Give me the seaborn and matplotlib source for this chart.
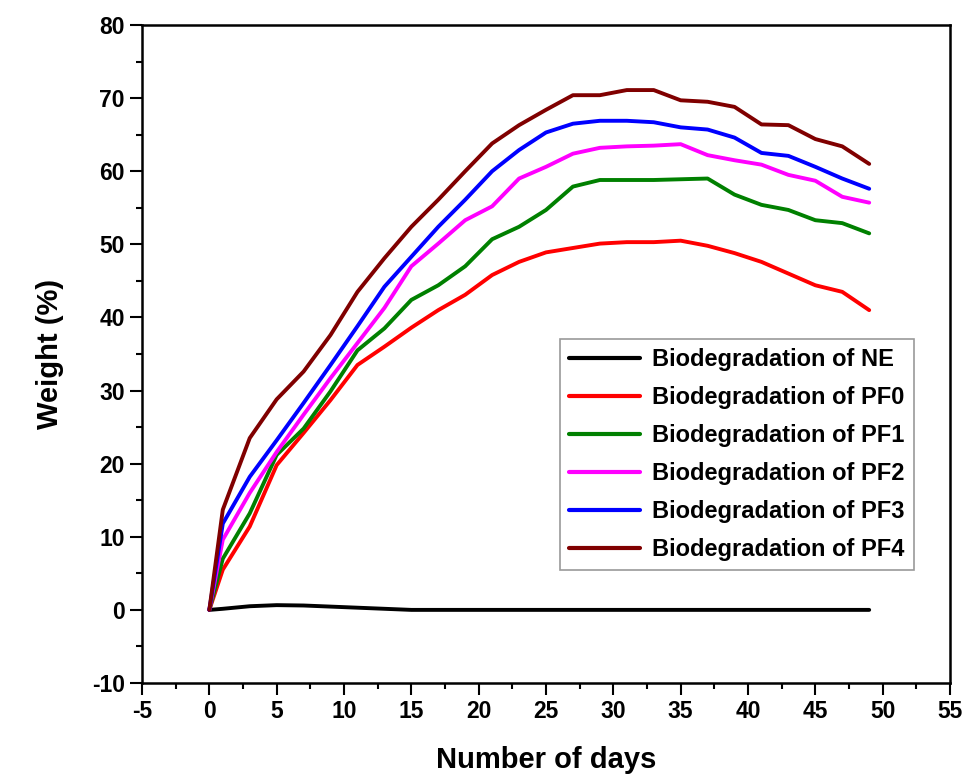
import matplotlib
matplotlib.use("Agg")
import matplotlib.pyplot as plt
import seaborn as sns
import pandas as pd
from matplotlib.ticker import MultipleLocator
from matplotlib.lines import Line2D

days = [0, 1, 3, 5, 7, 9, 11, 13, 15, 17, 19, 21, 23, 25, 27, 29, 31, 33, 35, 37, 39, 41, 43, 45, 47, 49]
ne  = [0, 0.15, 0.5, 0.65, 0.6, 0.45, 0.3, 0.15, 0, 0, 0, 0, 0, 0, 0, 0, 0, 0, 0, 0, 0, 0, 0, 0, 0, 0]
pf0 = [0, 5.5, 11.4, 19.8, 24.2, 28.7, 33.5, 36.0, 38.6, 41.0, 43.1, 45.8, 47.6, 48.9, 49.5, 50.1, 50.3, 50.3, 50.5, 49.8, 48.8, 47.6, 46.0, 44.4, 43.5, 41.0]
pf1 = [0, 7.0, 13.2, 21.2, 24.8, 29.9, 35.5, 38.5, 42.4, 44.4, 47.0, 50.7, 52.4, 54.7, 57.9, 58.8, 58.8, 58.8, 58.9, 59.0, 56.8, 55.4, 54.7, 53.3, 52.9, 51.5]
pf2 = [0, 9.6, 16.0, 21.6, 26.7, 31.7, 36.5, 41.3, 47.0, 50.1, 53.3, 55.2, 59.0, 60.6, 62.4, 63.2, 63.4, 63.5, 63.7, 62.2, 61.5, 60.9, 59.5, 58.7, 56.5, 55.7]
pf3 = [0, 11.8, 18.2, 23.2, 28.3, 33.5, 38.8, 44.2, 48.3, 52.4, 56.1, 60.0, 62.9, 65.3, 66.5, 66.9, 66.9, 66.7, 66.0, 65.7, 64.6, 62.5, 62.1, 60.6, 59.0, 57.6]
pf4 = [0, 13.7, 23.5, 28.8, 32.6, 37.6, 43.5, 48.1, 52.4, 56.1, 60.0, 63.8, 66.3, 68.4, 70.4, 70.4, 71.1, 71.1, 69.7, 69.5, 68.8, 66.4, 66.3, 64.4, 63.4, 61.0]

labels = ["Biodegradation of NE", "Biodegradation of PF0", "Biodegradation of PF1",
          "Biodegradation of PF2", "Biodegradation of PF3", "Biodegradation of PF4"]
colors = ["#000000", "#FF0000", "#008000", "#FF00FF", "#0000FF", "#800000"]
series = [ne, pf0, pf1, pf2, pf3, pf4]

rows = []
for lab, vals in zip(labels, series):
    for d, v in zip(days, vals):
        rows.append({"day": d, "weight": v, "series": lab})
df = pd.DataFrame(rows)

sns.set_style("ticks")
plt.rcParams["font.family"] = ["Liberation Sans", "DejaVu Sans"]
plt.rcParams["font.weight"] = "bold"
plt.rcParams["axes.unicode_minus"] = False
plt.rcParams["text.color"] = "black"
plt.rcParams["axes.labelcolor"] = "black"
plt.rcParams["xtick.color"] = "black"
plt.rcParams["ytick.color"] = "black"

fig = plt.figure(figsize=(9.79, 7.84), dpi=100)
ax = fig.add_axes([142/979, 1-683/784, (950-142)/979, (683-25)/784])

sns.lineplot(data=df, x="day", y="weight", hue="series", hue_order=labels,
             palette=dict(zip(labels, colors)), linewidth=2.8, ax=ax, legend=False)

ax.set_xlim(-5, 55)
ax.set_ylim(-10, 80)
ax.xaxis.set_major_locator(MultipleLocator(5))
ax.xaxis.set_minor_locator(MultipleLocator(2.5))
ax.yaxis.set_major_locator(MultipleLocator(10))
ax.yaxis.set_minor_locator(MultipleLocator(5))
ax.tick_params(which="major", direction="out", length=8.5, width=1.5, labelsize=16.5, pad=4,
               colors="black")
ax.tick_params(which="minor", direction="out", length=4.5, width=1.5, colors="black")
ax.tick_params(top=False, right=False, which="both")
for lab in ax.get_xticklabels() + ax.get_yticklabels():
    lab.set_fontweight("bold")
for s in ax.spines.values():
    s.set_linewidth(1.8)
    s.set_color("black")

ax.set_xlabel("Number of days", fontsize=21, fontweight="bold", labelpad=16, color="black")
ax.set_ylabel("Weight (%)", fontsize=21, fontweight="bold", labelpad=20, color="black")

handles = [Line2D([0], [0], color=c, lw=3) for c in colors]
leg = ax.legend(handles, labels, loc="upper left",
                bbox_to_anchor=((560-142)/808, (683-339)/658),
                borderaxespad=0, frameon=True, fancybox=False,
                prop={"size": 17, "weight": "bold"},
                handlelength=3.0, handletextpad=0.5, labelspacing=0.63, borderpad=0.4)
leg.get_frame().set_edgecolor("#808080")
leg.get_frame().set_linewidth(1.2)
for t in leg.get_texts():
    t.set_color("black")

fig.savefig("out.png", dpi=100)
